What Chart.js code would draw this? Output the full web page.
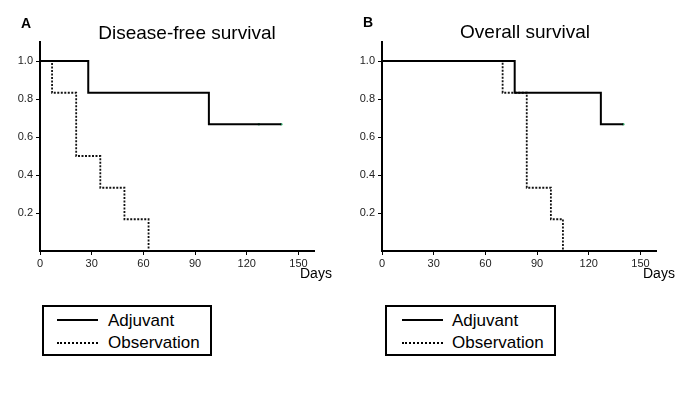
<!DOCTYPE html>
<html>
<head>
<meta charset="utf-8">
<script src="https://cdn.jsdelivr.net/npm/chart.js@4/dist/chart.umd.min.js"></script>
<style>
  body { margin: 0; background: #fff; font-family: "Liberation Sans", Arial, sans-serif; }
  #page { position: relative; width: 700px; height: 393px; overflow: hidden; }
  .abs { position: absolute; white-space: nowrap; line-height: 1; color: #000; }
  canvas { position: absolute; top: 0; }
  .box { position: absolute; border: 2px solid #000; box-sizing: border-box; }
  .solid { position: absolute; height: 0; border-top: 2px solid #000; }
  .dotted { position: absolute; height: 0; border-top: 2px dotted #000; }
</style>
</head>
<body>
<div id="page">
  <canvas id="chartA" width="340" height="290" style="left:0px"></canvas>
  <canvas id="chartB" width="340" height="290" style="left:342px"></canvas>

  <div class="abs" style="left:21px; top:16px; font-size:14px; font-weight:bold;">A</div>
  <div class="abs" style="left:87px; top:23px; width:200px; text-align:center; font-size:19px;">Disease-free survival</div>
  <div class="abs" style="left:363px; top:15px; font-size:14px; font-weight:bold;">B</div>
  <div class="abs" style="left:425px; top:22px; width:200px; text-align:center; font-size:19px;">Overall survival</div>
  <div class="abs" style="left:300px; top:266px; font-size:14px;">Days</div>
  <div class="abs" style="left:643px; top:266px; font-size:14px;">Days</div>

  <!-- legenda A -->
  <div class="box" style="left:42px; top:305px; width:170px; height:51px;"></div>
  <div class="solid" style="left:57px; top:319px; width:41px;"></div>
  <div class="abs" style="left:108px; top:312px; font-size:17px;">Adjuvant</div>
  <div class="dotted" style="left:57px; top:342px; width:41px;"></div>
  <div class="abs" style="left:108px; top:334px; font-size:17px;">Observation</div>

  <!-- legenda B -->
  <div class="box" style="left:385px; top:305px; width:171px; height:51px;"></div>
  <div class="solid" style="left:402px; top:319px; width:41px;"></div>
  <div class="abs" style="left:452px; top:312px; font-size:17px;">Adjuvant</div>
  <div class="dotted" style="left:402px; top:342px; width:41px;"></div>
  <div class="abs" style="left:452px; top:334px; font-size:17px;">Observation</div>
</div>

<script>
// Eixos
const xTicks = [0, 30, 60, 90, 120, 150];
const yTicks = [0.2, 0.4, 0.6, 0.8, 1.0];

// Painel A: sobrevida livre de doenca
const adjDaysA = [0, 28, 98, 140];
const adjSurvA = [1.0, 0.833, 0.667, 0.667];
const obsDaysA = [0, 7, 21, 35, 49, 63];
const obsSurvA = [1.0, 0.833, 0.5, 0.333, 0.167, 0];
const censDaysA = [127, 140];
const censSurvA = [0.667, 0.667];

// Painel B: sobrevida global
const adjDaysB = [0, 77, 127, 140];
const adjSurvB = [1.0, 0.833, 0.667, 0.667];
const obsDaysB = [0, 70, 84, 98, 105];
const obsSurvB = [1.0, 0.833, 0.333, 0.167, 0];
const censDaysB = [140];
const censSurvB = [0.667];

const toPoints = (xs, ys) => xs.map((x, i) => ({ x: x, y: ys[i] }));

const font = { family: '"Liberation Sans", Arial, sans-serif', size: 11 };

function makeChart(id, adjX, adjY, obsX, obsY, cenX, cenY) {
    return new Chart(document.getElementById(id), {
        type: 'scatter',
        data: {
            datasets: [
                {
                    label: 'Adjuvant',
                    data: toPoints(adjX, adjY),
                    showLine: true,
                    stepped: true,
                    borderColor: '#000',
                    borderWidth: 2,
                    pointRadius: 0
                },
                {
                    label: 'Observation',
                    data: toPoints(obsX, obsY),
                    showLine: true,
                    stepped: true,
                    borderColor: '#111',
                    borderWidth: 1.8,
                    borderDash: [2, 1.5],
                    pointRadius: 0
                },
                {
                    label: 'censored',
                    data: toPoints(cenX, cenY),
                    showLine: false,
                    pointRadius: 1.3,
                    pointBackgroundColor: '#3cb878',
                    pointBorderWidth: 0
                }
            ]
        },
        options: {
            responsive: false,
            animation: false,
            devicePixelRatio: 1,
            layout: { padding: { top: 42, right: 26, left: 0, bottom: 0 } },
            plugins: { legend: { display: false }, tooltip: { enabled: false } },
            scales: {
                x: {
                    type: 'linear',
                    min: 0,
                    max: 159,
                    afterBuildTicks: (s) => { s.ticks = xTicks.map(v => ({ value: v })); },
                    afterFit: (s) => { s.height = 39; },
                    grid: { drawOnChartArea: false, drawTicks: true, tickLength: 4, color: '#000' },
                    border: { color: '#000', width: 2 },
                    ticks: { font: font, color: '#222', padding: 2, callback: (v) => String(v) }
                },
                y: {
                    min: 0,
                    max: 1.1,
                    afterBuildTicks: (s) => { s.ticks = yTicks.map(v => ({ value: v })); },
                    afterFit: (s) => { s.width = 40; },
                    grid: { drawOnChartArea: false, drawTicks: true, tickLength: 4, color: '#000' },
                    border: { color: '#000', width: 2 },
                    ticks: { font: font, color: '#222', padding: 3, callback: (v) => v.toFixed(1) }
                }
            }
        }
    });
}

makeChart('chartA', adjDaysA, adjSurvA, obsDaysA, obsSurvA, censDaysA, censSurvA);
makeChart('chartB', adjDaysB, adjSurvB, obsDaysB, obsSurvB, censDaysB, censSurvB);
</script>
</body>
</html>
